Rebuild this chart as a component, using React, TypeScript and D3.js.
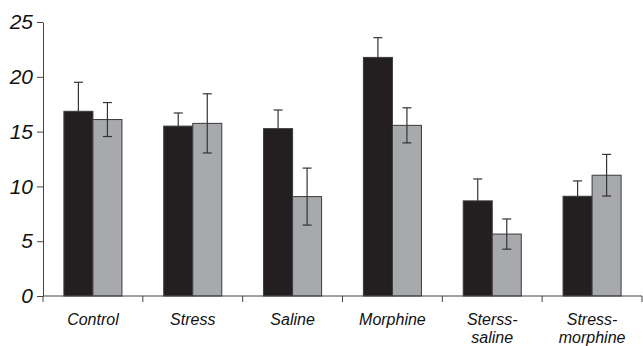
import React, { useEffect, useRef } from "react";
import * as d3 from "d3";

const categories = [
  ["Control"],
  ["Stress"],
  ["Saline"],
  ["Morphine"],
  ["Sterss-", "saline"],
  ["Stress-", "morphine"],
];
const darkValues = [16.85, 15.5, 15.27, 21.77, 8.68, 9.1];
const darkErrors = [2.65, 1.2, 1.7, 1.8, 2.0, 1.4];
const grayValues = [16.1, 15.75, 9.07, 15.57, 5.65, 11.02];
const grayErrors = [1.55, 2.7, 2.6, 1.6, 1.38, 1.9];
const yTicks = [0, 5, 10, 15, 20, 25];

const App = () => {
  const svgRef = useRef<SVGSVGElement>(null);

  useEffect(() => {
    const width = 643;
    const height = 346;
    const margin = { top: 22, right: 1, bottom: 50, left: 43 };

    const svg = d3.select(svgRef.current);
    svg.selectAll("*").remove();

    const x = d3
      .scaleBand()
      .domain(categories.map((_, i) => String(i)))
      .range([margin.left, width - margin.right])
      .paddingInner(0)
      .paddingOuter(0);

    const inner = d3
      .scaleBand()
      .domain(["dark", "gray"])
      .range([0, x.bandwidth()])
      .paddingOuter(0.72)
      .paddingInner(0);

    const y = d3
      .scaleLinear()
      .domain([0, 25])
      .range([height - margin.bottom, margin.top]);

    const rows = categories.map((c, i) => [
      { key: "dark", value: darkValues[i], err: darkErrors[i], fill: "#231f20" },
      { key: "gray", value: grayValues[i], err: grayErrors[i], fill: "#a7a9ac" },
    ]);

    const groups = svg
      .selectAll("g.grp")
      .data(rows)
      .enter()
      .append("g")
      .attr("transform", (_, i) => `translate(${x(String(i))},0)`);

    groups
      .selectAll("rect")
      .data((d) => d)
      .enter()
      .append("rect")
      .attr("x", (d) => inner(d.key)!)
      .attr("width", inner.bandwidth())
      .attr("y", (d) => y(d.value))
      .attr("height", (d) => y(0) - y(d.value))
      .attr("fill", (d) => d.fill)
      .attr("stroke", "#3a3a3a")
      .attr("stroke-width", 1);

    // error bars
    const err = groups
      .selectAll("g.err")
      .data((d) => d)
      .enter()
      .append("g")
      .attr("stroke", "#333")
      .attr("stroke-width", 1.2);

    const cx = (d: any) => inner(d.key)! + inner.bandwidth() / 2;

    err
      .append("line")
      .attr("x1", cx)
      .attr("x2", cx)
      .attr("y1", (d) => (d.key === "dark" ? y(d.value) : y(d.value - d.err)))
      .attr("y2", (d) => y(d.value + d.err));
    err
      .append("line")
      .attr("x1", (d) => cx(d) - 4.5)
      .attr("x2", (d) => cx(d) + 4.5)
      .attr("y1", (d) => y(d.value + d.err))
      .attr("y2", (d) => y(d.value + d.err));
    err
      .filter((d) => d.key === "gray")
      .append("line")
      .attr("x1", (d) => cx(d) - 4.5)
      .attr("x2", (d) => cx(d) + 4.5)
      .attr("y1", (d) => y(d.value - d.err))
      .attr("y2", (d) => y(d.value - d.err));

    // y axis
    const yAxis = svg
      .append("g")
      .attr("transform", `translate(${margin.left},0)`)
      .call(d3.axisLeft(y).tickValues(yTicks).tickSize(6).tickSizeOuter(0).tickPadding(4));
    yAxis.select(".domain").attr("stroke", "#444");
    yAxis.selectAll(".tick line").attr("stroke", "#444");
    yAxis
      .selectAll(".tick text")
      .attr("fill", "#111")
      .style("font-family", "'Liberation Sans', Arial, sans-serif")
      .style("font-style", "italic")
      .style("font-size", "21px");

    // x axis
    const xAxis = svg
      .append("g")
      .attr("transform", `translate(0,${y(0)})`);
    xAxis
      .append("line")
      .attr("x1", margin.left)
      .attr("x2", width - margin.right)
      .attr("stroke", "#444");
    const edges = categories.map((_, i) => x(String(i))!).concat([x.range()[1]]);
    xAxis
      .selectAll("line.tk")
      .data(edges)
      .enter()
      .append("line")
      .attr("x1", (d) => d)
      .attr("x2", (d) => d)
      .attr("y1", 0)
      .attr("y2", 6)
      .attr("stroke", "#444");

    const labels = xAxis
      .selectAll("text")
      .data(categories)
      .enter()
      .append("text")
      .attr("x", (_, i) => x(String(i))! + x.bandwidth() / 2)
      .attr("y", 29)
      .attr("text-anchor", "middle")
      .attr("fill", "#111")
      .style("font-family", "'Liberation Sans', Arial, sans-serif")
      .style("font-style", "italic")
      .style("font-size", "16px");
    labels
      .selectAll("tspan")
      .data((d) => d)
      .enter()
      .append("tspan")
      .attr("x", function () {
        return (this as any).parentNode.getAttribute("x");
      })
      .attr("dy", (_, j) => (j === 0 ? 0 : 18))
      .text((d) => d);
  }, []);

  return (
    <svg
      ref={svgRef}
      width={643}
      height={346}
      style={{ position: "absolute", left: 0, top: 0, background: "#fff" }}
    />
  );
};

export default App;
